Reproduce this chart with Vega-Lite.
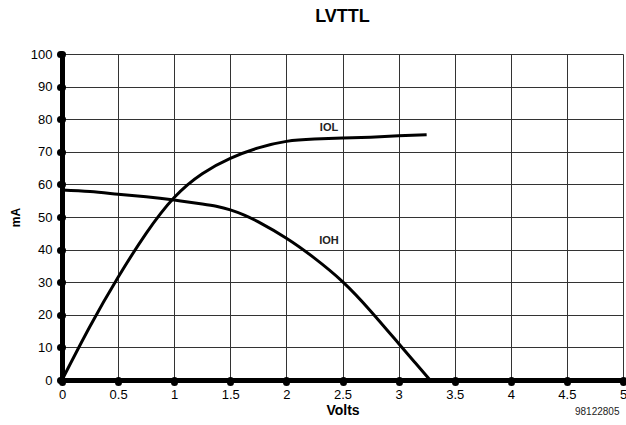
{
  "$schema": "https://vega.github.io/schema/vega-lite/v6.json",
  "autosize": "none",
  "width": 561,
  "height": 326,
  "padding": {"left": 62, "top": 54, "right": 3, "bottom": 45},
  "background": "white",
  "config": {
    "font": "Liberation Sans",
    "view": {"stroke": null}
  },
  "title": {
    "text": "LVTTL",
    "fontSize": 18,
    "fontWeight": "bold",
    "font": "Liberation Sans",
    "color": "black",
    "anchor": "middle",
    "offset": 22
  },
  "datasets": {
    "curves": [
      {"series": "IOH", "v": 0, "ma": 58.3},
      {"series": "IOH", "v": 0.25, "ma": 57.8},
      {"series": "IOH", "v": 0.5, "ma": 57.0},
      {"series": "IOH", "v": 0.75, "ma": 56.2},
      {"series": "IOH", "v": 1.0, "ma": 55.2},
      {"series": "IOH", "v": 1.25, "ma": 54.0},
      {"series": "IOH", "v": 1.375, "ma": 53.3},
      {"series": "IOH", "v": 1.5, "ma": 52.2},
      {"series": "IOH", "v": 1.625, "ma": 50.6},
      {"series": "IOH", "v": 1.75, "ma": 48.5},
      {"series": "IOH", "v": 2.0, "ma": 43.5},
      {"series": "IOH", "v": 2.25, "ma": 37.4},
      {"series": "IOH", "v": 2.5, "ma": 30.2},
      {"series": "IOH", "v": 2.75, "ma": 21.2},
      {"series": "IOH", "v": 3.0, "ma": 11.2},
      {"series": "IOH", "v": 3.15, "ma": 5.2},
      {"series": "IOH", "v": 3.28, "ma": 0},
      {"series": "IOL", "v": 0, "ma": 0},
      {"series": "IOL", "v": 0.25, "ma": 16.5},
      {"series": "IOL", "v": 0.5, "ma": 31.5},
      {"series": "IOL", "v": 0.75, "ma": 45.0},
      {"series": "IOL", "v": 1.0, "ma": 56.0},
      {"series": "IOL", "v": 1.25, "ma": 63.3},
      {"series": "IOL", "v": 1.5, "ma": 68.0},
      {"series": "IOL", "v": 1.75, "ma": 71.2},
      {"series": "IOL", "v": 2.0, "ma": 73.2},
      {"series": "IOL", "v": 2.25, "ma": 73.9},
      {"series": "IOL", "v": 2.5, "ma": 74.2},
      {"series": "IOL", "v": 2.75, "ma": 74.5},
      {"series": "IOL", "v": 3.0, "ma": 74.9},
      {"series": "IOL", "v": 3.25, "ma": 75.2}
    ],
    "labels": [
      {"label": "IOL", "v": 2.38, "ma": 77.3},
      {"label": "IOH", "v": 2.38, "ma": 42.7}
    ],
    "note": [
      {"v": 5, "ma": 0, "text": "98122805"}
    ]
  },
  "encoding": {
    "x": {
      "field": "v", "type": "quantitative",
      "scale": {"domain": [0, 5], "nice": false, "zero": false},
      "axis": {
        "title": "Volts",
        "values": [0, 0.5, 1, 1.5, 2, 2.5, 3, 3.5, 4, 4.5, 5],
        "format": "~g",
        "labelFontSize": 13,
        "labelColor": "black",
        "labelPadding": 6,
        "labelFlush": false,
        "labelOverlap": false,
        "titleFontSize": 14,
        "titleFontWeight": "bold",
        "titleColor": "black",
        "titlePadding": 2,
        "domainColor": "black",
        "domainWidth": 5,
        "tickColor": "black",
        "tickWidth": 7,
        "tickSize": 2,
        "tickCap": "round",
        "grid": true,
        "gridColor": "#333333",
        "gridWidth": 1,
        "gridOpacity": 1
      }
    },
    "y": {
      "field": "ma", "type": "quantitative",
      "scale": {"domain": [0, 100], "nice": false},
      "axis": {
        "title": "mA",
        "values": [0, 10, 20, 30, 40, 50, 60, 70, 80, 90, 100],
        "format": "d",
        "labelFontSize": 13,
        "labelColor": "black",
        "labelPadding": 8,
        "labelFlush": false,
        "labelOverlap": false,
        "titleFontSize": 12,
        "titleFontWeight": "bold",
        "titleColor": "black",
        "titlePadding": 8,
        "domainColor": "black",
        "domainWidth": 5,
        "tickColor": "black",
        "tickWidth": 7,
        "tickSize": 2,
        "tickCap": "round",
        "grid": true,
        "gridColor": "#333333",
        "gridWidth": 1,
        "gridOpacity": 1
      }
    }
  },
  "layer": [
    {
      "data": {"name": "curves"},
      "mark": {"type": "line", "interpolate": "natural", "strokeWidth": 3, "color": "black", "clip": false},
      "encoding": {
        "detail": {"field": "series", "type": "nominal"}
      }
    },
    {
      "data": {"name": "labels"},
      "mark": {"type": "text", "fontSize": 11, "fontWeight": "bold", "color": "#222222", "align": "center", "baseline": "middle"},
      "encoding": {
        "text": {"field": "label"}
      }
    },
    {
      "data": {"name": "note"},
      "mark": {"type": "text", "fontSize": 10, "color": "#222222", "align": "left", "baseline": "middle", "dx": -48, "dy": 32, "clip": false},
      "encoding": {
        "text": {"field": "text"}
      }
    }
  ]
}
